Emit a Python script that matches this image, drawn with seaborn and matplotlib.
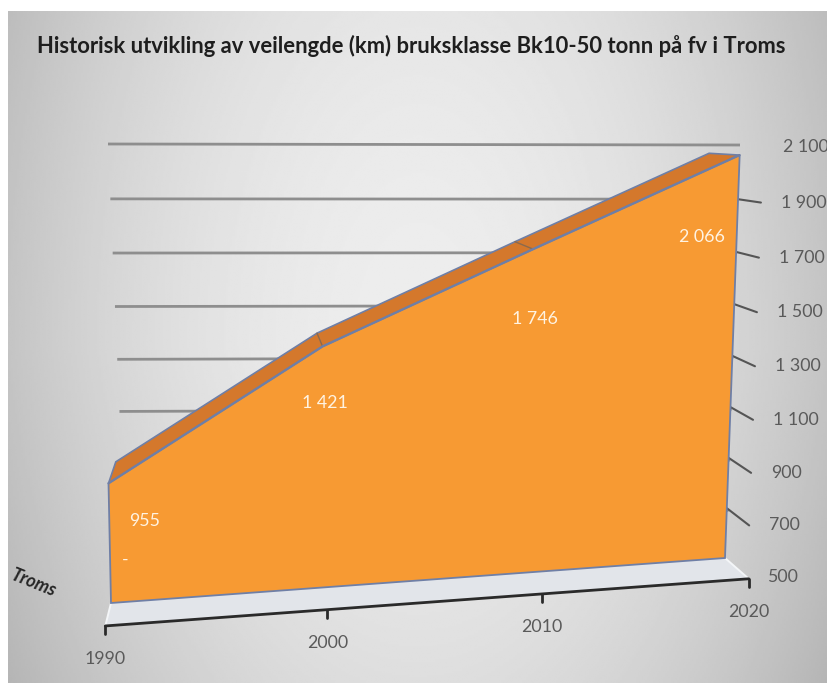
import numpy as np
import matplotlib
matplotlib.use("Agg")
import matplotlib.pyplot as plt
import seaborn as sns
from matplotlib.transforms import Transform, IdentityTransform
from matplotlib.patches import Polygon

# ---- data -------------------------------------------------------------
years = [1990, 2000, 2010, 2020]
lengths_km = [955, 1421, 1746, 2066]
series_name = "Troms"
value_ticks = [500, 700, 900, 1100, 1300, 1500, 1700, 1900, 2100]
value_tick_labels = ["500", "700", "900", "1 100", "1 300", "1 500",
                     "1 700", "1 900", "2 100"]
year_tick_labels = ["1990", "2000", "2010", "2020"]
value_labels = ["955", "1 421", "1 746", "2 066"]
title = "Historisk utvikling av veilengde (km) bruksklasse Bk10-50 tonn på fv i Troms"

# ---- styling ----------------------------------------------------------
sns.set_theme(style="white")
plt.rcParams["font.family"] = ["Lato", "DejaVu Sans"]

FIG_W, FIG_H = 828, 683
ORANGE = "#F79A33"
ORANGE_TOP = "#D4782C"
EDGE = "#6F7FA6"
GRID = "#8E8E8E"
TEXT_GREY = "#5A5A5A"
LABEL_SIZE = 12.8

# 3D view: front plane and back wall as projected frames (pixel space,
# y downwards), plus a vanishing point for the depth direction.
UNIT_SQUARE = [(0, 0), (1, 0), (0, 1), (1, 1)]
FRONT_FRAME = [(111, 603), (725, 558), (102, 170), (740, 146)]
WALL_FRAME = [(126, 564), (727, 560), (108, 144), (740, 145)]
VANISH = np.array([230.0, 125.0])
DEPTH_STEP = 0.06


def homography(src, dst):
    rows, rhs = [], []
    for (u, v), (x, y) in zip(src, dst):
        rows.append([u, v, 1, 0, 0, 0, -u * x, -v * x]); rhs.append(x)
        rows.append([0, 0, 0, u, v, 1, -u * y, -v * y]); rhs.append(y)
    h = np.linalg.solve(np.array(rows, float), np.array(rhs, float))
    return np.append(h, 1.0).reshape(3, 3)


class PlaneProjection(Transform):
    """Axes-fraction (u, v) on a depth slice -> figure fraction."""
    input_dims = 2
    output_dims = 2
    has_inverse = False

    def __init__(self, H, slice_depth=0.0):
        super().__init__()
        self.H = H
        self.slice_depth = slice_depth

    def transform_non_affine(self, values):
        uv = np.asarray(values, float).reshape(-1, 2)
        hom = np.column_stack([uv, np.ones(len(uv))]) @ self.H.T
        px = hom[:, :2] / hom[:, 2:3]
        px = px + DEPTH_STEP * self.slice_depth * (VANISH - px)
        return np.column_stack([px[:, 0] / FIG_W, 1.0 - px[:, 1] / FIG_H])


H_front = homography(UNIT_SQUARE, FRONT_FRAME)
H_wall = homography(UNIT_SQUARE, WALL_FRAME)

fig = plt.figure(figsize=(FIG_W / 100, FIG_H / 100), dpi=100)
fig.patch.set_facecolor("white")

# soft grey backdrop with darker edges
bg = fig.add_axes([8 / FIG_W, 0, 1 - 8 / FIG_W, 1 - 11 / FIG_H], zorder=-5)
gx = np.linspace(-1, 1, 400)
gy = np.linspace(-1, 1, 300)
xx, yy = np.meshgrid(gx, gy)
shade = 0.93 - 0.16 * xx ** 2 - 0.03 * yy ** 2 - 0.03 * np.clip(yy, 0, 1)
bg.imshow(shade, cmap="gray", vmin=0, vmax=1, aspect="auto",
          interpolation="bilinear")
bg.set_axis_off()

ax = fig.add_axes([0, 0, 1, 1], facecolor="none")
ax.set_xlim(years[0], years[-1])
ax.set_ylim(value_ticks[0], value_ticks[-1])
ax.set_autoscale_on(False)
ax.set_axis_off()


def plane(H, slice_depth):
    return ax.transLimits + PlaneProjection(H, slice_depth) + fig.transFigure


front = plane(H_front, 0.0)
back = plane(H_front, 1.0)
floor_edge = plane(H_front, -0.8)
tick_end = plane(H_front, -0.75)
wall = plane(H_wall, 0.0)
screen = IdentityTransform()

# back wall gridlines
for v in value_ticks:
    ax.plot([years[0], years[-1]], [v, v], transform=wall, color=GRID,
            lw=2.0, solid_capstyle="butt", zorder=1)

# value axis ticks pointing out of the side wall
for v in value_ticks[1:-1]:
    p0 = front.transform((years[-1], v))
    p1 = tick_end.transform((years[-1], v))
    ax.plot([p0[0], p1[0]], [p0[1], p1[1]], transform=screen,
            color="#555555", lw=1.5, zorder=1)

# floor strip in front of the area
base = value_ticks[0]
ends = [(years[0], base), (years[-1], base)]
fb = front.transform(ends)
ff = floor_edge.transform(ends)
ax.add_patch(Polygon(np.vstack([fb, ff[::-1]]), closed=True, transform=screen,
                     facecolor="#E2E5EA", edgecolor="none", zorder=2))
for i in range(2):
    ax.plot([fb[i, 0], ff[i, 0]], [fb[i, 1], ff[i, 1]], transform=screen,
            color="#F4F6F8", lw=1.4, zorder=2)
ax.plot([years[0], years[-1]], [base, base], transform=floor_edge,
        color="#2A2A2A", lw=2.0, zorder=3)
for yr, lab in zip(years, year_tick_labels):
    p = floor_edge.transform((yr, base))
    ax.plot([p[0], p[0]], [p[1], p[1] - 8], transform=screen,
            color="#2A2A2A", lw=2.0, zorder=3)
    ax.annotate(lab, xy=(yr, base), xycoords=floor_edge, xytext=(0, -24),
                textcoords="offset points", ha="center", va="center",
                color=TEXT_GREY, fontsize=LABEL_SIZE)

# top surface of the extruded area
pts = np.column_stack([years, lengths_km]).astype(float)
top_front = front.transform(pts)
top_back = back.transform(pts)
ax.add_patch(Polygon(np.vstack([top_front, top_back[::-1]]), closed=True,
                     transform=screen, facecolor=ORANGE_TOP, edgecolor=EDGE,
                     lw=1.2, zorder=4))
for i in range(1, len(years) - 1):
    ax.plot([top_front[i, 0], top_back[i, 0]], [top_front[i, 1], top_back[i, 1]],
            transform=screen, color="#8B6A4E", lw=1.0, zorder=4)

# front face of the area
face = [(years[0], base)] + list(zip(years, lengths_km)) + [(years[-1], base)]
ax.add_patch(Polygon(face, closed=True, transform=front, facecolor=ORANGE,
                     edgecolor=EDGE, lw=1.3, zorder=5))
sns.lineplot(x=years, y=lengths_km, ax=ax, transform=front, color=EDGE,
             lw=1.6, zorder=6, legend=False)
ax.set_xlim(years[0], years[-1])
ax.set_ylim(value_ticks[0], value_ticks[-1])
ax.set_axis_off()

# data labels on the front face
n = len(years)
for i, (yr, val, lab) in enumerate(zip(years, lengths_km, value_labels)):
    if i == 0:
        ha, dx = "left", 14.5
    elif i == n - 1:
        ha, dx = "right", -8.5
    else:
        ha, dx = "center", 2.0
    ax.annotate(lab, xy=(yr, val * 0.85), xycoords=front, xytext=(dx, 0),
                textcoords="offset points", ha=ha, va="center",
                color="#FFF3E2", fontsize=LABEL_SIZE, zorder=7)
ax.annotate("-", xy=(years[0], 667), xycoords=front, xytext=(8.5, 0),
            textcoords="offset points", ha="left", va="center",
            color="#FFF3E2", fontsize=LABEL_SIZE, zorder=7)

# value axis labels
for v, lab in zip(value_ticks, value_tick_labels):
    ax.annotate(lab, xy=(years[-1], v), xycoords=tick_end, xytext=(14.4, 0),
                textcoords="offset points", ha="left", va="center",
                color=TEXT_GREY, fontsize=LABEL_SIZE)

# series axis label
fig.text(33 / FIG_W, 1 - 583 / FIG_H, series_name, rotation=-22,
         ha="center", va="center", fontsize=13, fontweight="bold",
         fontstyle="italic", color="#262626")

fig.text(0.497, 1 - 46 / FIG_H, title, ha="center", va="center",
         fontsize=15.8, fontweight="bold", color="#1E1E1E")

fig.savefig("out.png", dpi=100)
